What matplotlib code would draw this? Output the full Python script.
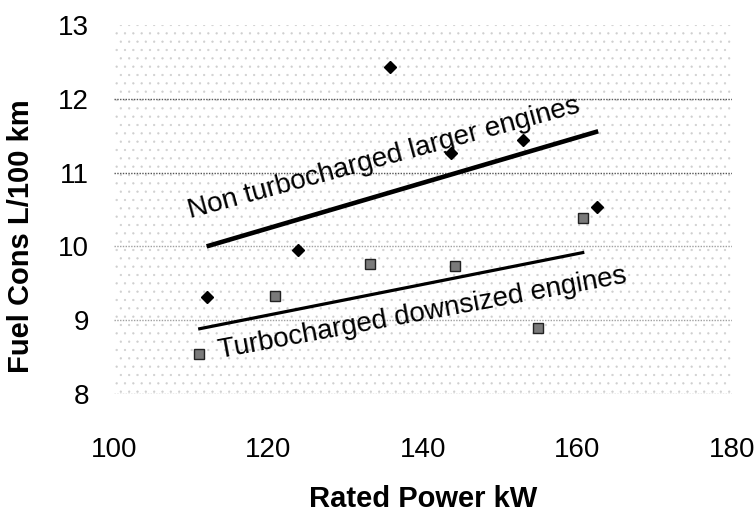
import matplotlib
matplotlib.use("Agg")
import matplotlib.pyplot as plt

# Data
non_turbo_power = [112.0, 123.8, 135.8, 143.6, 153.0, 162.6]
non_turbo_fuel = [9.31, 9.95, 12.43, 11.26, 11.44, 10.54]
turbo_power = [111.0, 120.9, 133.2, 144.2, 154.9, 160.7]
turbo_fuel = [8.54, 9.33, 9.76, 9.73, 8.89, 10.39]

non_turbo_trend_x = [112.0, 162.7]
non_turbo_trend_y = [10.00, 11.56]
turbo_trend_x = [110.9, 160.9]
turbo_trend_y = [8.88, 9.92]

x_ticks = [100, 120, 140, 160, 180]
y_ticks = [8, 9, 10, 11, 12, 13]

label_non_turbo = "Non turbocharged larger engines"
label_turbo = "Turbocharged downsized engines"

plt.rcParams['hatch.color'] = '#cfcfcf'
plt.rcParams['hatch.linewidth'] = 0.4

fig = plt.figure(figsize=(7.56, 5.21), dpi=100)
ax = fig.add_axes([0.1508, 0.2438, 0.968 - 0.1508, 0.952 - 0.2438])

ax.set_xlim(100, 180)
ax.set_ylim(8, 13)
ax.patch.set_facecolor('white')
ax.patch.set_hatch('..')
ax.patch.set_edgecolor('#cfcfcf')
ax.patch.set_linewidth(0)

for s in ax.spines.values():
    s.set_visible(False)

# gridlines
for yv in y_ticks[:-1]:
    col = '#555555' if yv in (11, 12) else '#a0a0a0'
    ax.axhline(yv, color=col, linestyle=(0, (1, 1)), linewidth=1.0, zorder=1)

ax.set_xticks(x_ticks)
ax.set_yticks(y_ticks)
tick_font = ['Liberation Sans Narrow', 'Liberation Sans', 'DejaVu Sans']
ax.set_xticklabels([str(v) for v in x_ticks], family=tick_font, fontsize=20)
ax.set_yticklabels([str(v) for v in y_ticks], family=tick_font, fontsize=20)
ax.tick_params(axis='x', length=0, pad=31)
ax.tick_params(axis='y', length=0, pad=18)

ax.plot(non_turbo_trend_x, non_turbo_trend_y, color='black', linewidth=3.3,
        solid_capstyle='butt', zorder=3)
ax.plot(turbo_trend_x, turbo_trend_y, color='black', linewidth=2.3,
        solid_capstyle='butt', zorder=3)

ax.plot(non_turbo_power, non_turbo_fuel, linestyle='none', marker='D',
        markersize=6, color='black', zorder=4)
ax.plot(turbo_power, turbo_fuel, linestyle='none', marker='s',
        markersize=6.5, markerfacecolor='#7a7a7a', markeredgecolor='#222222',
        markeredgewidth=1.0, zorder=4)

ax.text(109.9, 10.38, label_non_turbo, rotation=15.2, rotation_mode='anchor',
        ha='left', va='baseline', fontsize=20, family='Liberation Sans',
        zorder=5)
ax.text(113.7, 8.49, label_turbo, rotation=10.5, rotation_mode='anchor',
        ha='left', va='baseline', fontsize=20, family='Liberation Sans',
        zorder=5)

ax.set_xlabel('Rated Power kW', family='Liberation Sans', fontweight='bold',
              fontsize=21, labelpad=16)
ax.set_ylabel('Fuel Cons L/100 km', family='Liberation Sans', fontweight='bold',
              fontsize=21)
ax.yaxis.set_label_coords(-0.128, 0.428)

fig.savefig('out.png', dpi=100)
